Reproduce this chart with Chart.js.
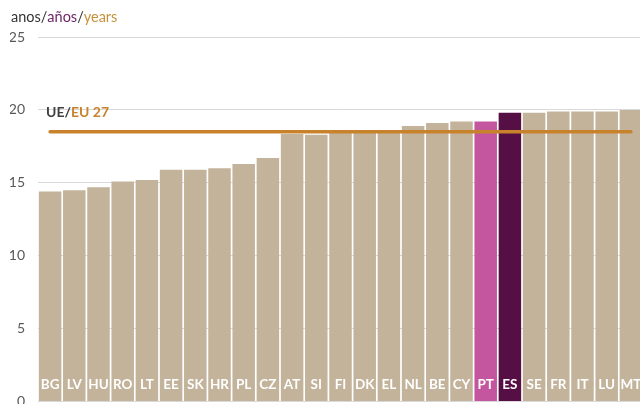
<!DOCTYPE html>
<html>
<head>
<meta charset="utf-8">
<script src="https://cdn.jsdelivr.net/npm/chart.js@4/dist/chart.umd.min.js"></script>
<style>
  html, body { margin: 0; padding: 0; background: #ffffff; overflow: hidden; width: 640px; height: 404px; }
  #wrap { position: absolute; left: 0; top: 0; width: 650px; height: 423px; }
</style>
</head>
<body>
<div id="wrap"><canvas id="c" width="650" height="423"></canvas></div>
<script>
const categories = ['BG','LV','HU','RO','LT','EE','SK','HR','PL','CZ','AT','SI','FI','DK','EL','NL','BE','CY','PT','ES','SE','FR','IT','LU','MT'];
const values = [14.4,14.5,14.7,15.1,15.2,15.9,15.9,16.0,16.3,16.7,18.35,18.3,18.5,18.5,18.6,18.9,19.1,19.2,19.2,19.8,19.8,19.9,19.9,19.9,20.0];
const eu27 = 18.5;
const yTicks = [0,5,10,15,20,25];
const titleParts = [['anos/', '#333333'], ['años', '#6E2564'], ['/', '#333333'], ['years', '#C8913A']];
const refParts = [['UE/', '#404040'], ['EU 27', '#C8822C']];

const TAN = '#C2B39A', PINK = '#C4569F', PURPLE = '#560F44', LINE = '#C8822C';
const barColors = categories.map(c => c === 'PT' ? PINK : (c === 'ES' ? PURPLE : TAN));

const FONT = 'Lato, "Open Sans", sans-serif';

const overlay = {
  id: 'overlay',
  afterDatasetsDraw(chart) {
    const ctx = chart.ctx;
    const xs = chart.scales.x;
    ctx.save();
    ctx.font = 'bold 13.5px ' + FONT;
    ctx.fillStyle = '#ffffff';
    ctx.textAlign = 'center';
    ctx.textBaseline = 'alphabetic';
    categories.forEach((c, i) => {
      ctx.fillText(c, xs.getPixelForValue(i), 388.5);
    });
    ctx.restore();
  },
  afterDraw(chart) {
    const ctx = chart.ctx;
    ctx.save();
    ctx.textAlign = 'left';
    ctx.textBaseline = 'alphabetic';
    ctx.font = '14.5px ' + FONT;
    let x = 11;
    titleParts.forEach(([t, col]) => {
      ctx.fillStyle = col;
      ctx.fillText(t, x, 21.5);
      x += ctx.measureText(t).width;
    });
    ctx.font = 'bold 14px ' + FONT;
    x = 46;
    refParts.forEach(([t, col]) => {
      ctx.fillStyle = col;
      ctx.fillText(t, x, 116.5);
      x += ctx.measureText(t).width;
    });
    ctx.restore();
  }
};

new Chart(document.getElementById('c'), {
  type: 'bar',
  data: {
    labels: categories,
    datasets: [
      {
        type: 'line',
        data: categories.map(() => eu27),
        borderColor: LINE,
        borderWidth: 3.5,
        borderCapStyle: 'round',
        pointRadius: 0,
        fill: false,
        order: 0
      },
      {
        type: 'bar',
        data: values,
        backgroundColor: barColors,
        borderWidth: 0,
        barPercentage: 0.93,
        categoryPercentage: 1.0,
        order: 1
      }
    ]
  },
  options: {
    responsive: false,
    animation: false,
    devicePixelRatio: 1,
    layout: { padding: { top: 37, bottom: 11, left: 10, right: 7 } },
    plugins: { legend: { display: false }, tooltip: { enabled: false }, title: { display: false } },
    scales: {
      x: {
        display: false,
        offset: true
      },
      y: {
        min: 0,
        max: 25,
        afterBuildTicks(scale) { scale.ticks = yTicks.map(v => ({ value: v })); },
        afterFit(scale) { scale.width = 28; },
        grid: { color: '#D9D9D9', lineWidth: 1, drawTicks: false },
        border: { display: false },
        ticks: { color: '#595959', font: { family: FONT, size: 14 }, padding: 13 }
      }
    }
  },
  plugins: [overlay]
});
</script>
</body>
</html>
